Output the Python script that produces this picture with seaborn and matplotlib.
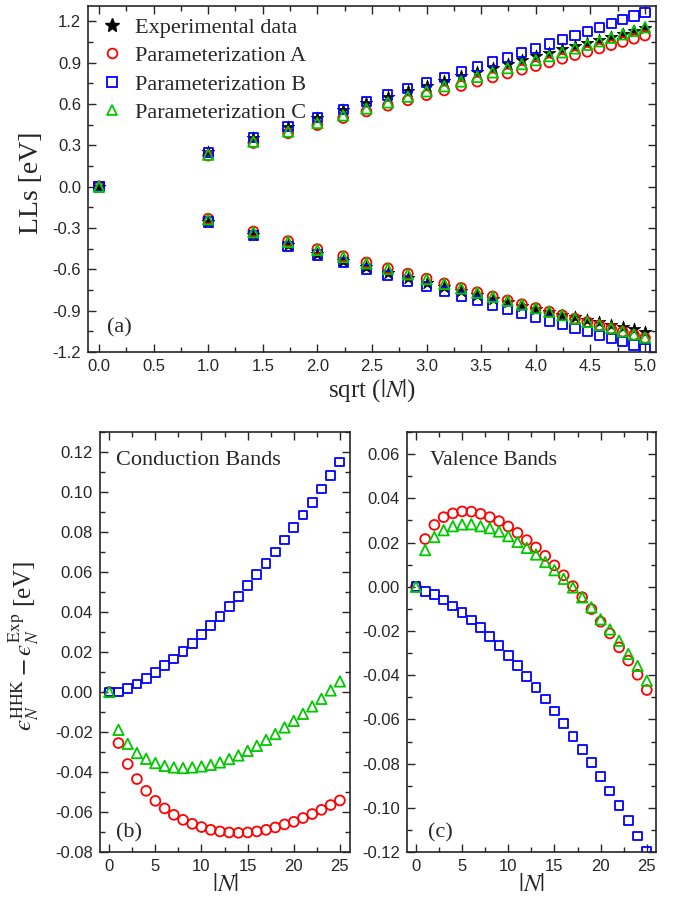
import numpy as np
import seaborn as sns
import matplotlib
matplotlib.use('Agg')
import matplotlib.pyplot as plt
from matplotlib.lines import Line2D
from matplotlib.ticker import MultipleLocator, FormatStrFormatter

# Landau level index |N|
n_levels = list(range(26))

# experimental Landau levels [eV] (conduction / valence)
exp_cond = [0.0, 0.250, 0.352, 0.430, 0.495, 0.552, 0.603, 0.648, 0.690, 0.729,
            0.765, 0.799, 0.831, 0.862, 0.891, 0.918, 0.944, 0.970, 0.995, 1.020,
            1.043, 1.065, 1.087, 1.108, 1.129, 1.150]
exp_val = [0.0, -0.2545, -0.3535, -0.4269, -0.487, -0.5387, -0.5843, -0.6255, -0.6629,
           -0.6975, -0.7296, -0.7596, -0.7877, -0.8143, -0.8394, -0.8633, -0.886,
           -0.9077, -0.9284, -0.9483, -0.9673, -0.9857, -1.0033, -1.0203, -1.0367, -1.0525]

# HHK - Exp differences, conduction bands [eV]
diff_cond_A = [0.0, -0.0255, -0.0360, -0.0435, -0.0494, -0.0544, -0.0582, -0.0614, -0.0639,
               -0.0659, -0.0675, -0.0689, -0.0697, -0.0702, -0.0704, -0.0702, -0.0697,
               -0.0689, -0.0677, -0.0662, -0.0649, -0.0630, -0.0610, -0.0589, -0.0565, -0.0542]
diff_cond_B = [0.0, 0.0, 0.0017, 0.0040, 0.0066, 0.0098, 0.0132, 0.0165, 0.0202, 0.0243,
               0.0287, 0.0332, 0.0378, 0.0428, 0.0478, 0.0532, 0.0587, 0.0643, 0.0700,
               0.0760, 0.0823, 0.0885, 0.0948, 0.1015, 0.1082, 0.1150]
diff_cond_C = [0.0, -0.0189, -0.0259, -0.0305, -0.0334, -0.0355, -0.0369, -0.0377, -0.0380,
               -0.0377, -0.0372, -0.0364, -0.0352, -0.0335, -0.0317, -0.0294, -0.0269,
               -0.0239, -0.0210, -0.0177, -0.0144, -0.0109, -0.0072, -0.0034, 0.0008, 0.0053]

# HHK - Exp differences, valence bands [eV]
diff_val_A = [0.0, 0.0216, 0.0280, 0.0315, 0.0332, 0.0341, 0.0340, 0.0330, 0.0315, 0.0297,
              0.0273, 0.0244, 0.0211, 0.0178, 0.0140, 0.0097, 0.0052, 0.0003, -0.0047,
              -0.0101, -0.0158, -0.0211, -0.0274, -0.0334, -0.0398, -0.0467]
diff_val_B = [0.0, -0.0021, -0.0036, -0.0060, -0.0087, -0.0118, -0.0150, -0.0185, -0.0226,
              -0.0267, -0.0310, -0.0357, -0.0405, -0.0455, -0.0508, -0.0562, -0.0618,
              -0.0677, -0.0735, -0.0796, -0.0860, -0.0924, -0.0990, -0.1057, -0.1127, -0.1195]
diff_val_C = [0.0, 0.0166, 0.0225, 0.0256, 0.0274, 0.0282, 0.0283, 0.0274, 0.0265, 0.0250,
              0.0229, 0.0203, 0.0176, 0.0146, 0.0112, 0.0075, 0.0036, -0.0003, -0.0048,
              -0.0093, -0.0147, -0.0193, -0.0244, -0.0304, -0.0358, -0.0425]

RED = '#ff0000'
BLUE = '#0000ff'
GREEN = '#00c800'

sns.set_style('ticks')
plt.rcParams['font.family'] = ['Liberation Serif', 'DejaVu Serif']
plt.rcParams['mathtext.fontset'] = 'stix'
plt.rcParams['axes.unicode_minus'] = False
plt.rcParams['axes.linewidth'] = 1.2

TICKFONT = {'family': 'Liberation Sans', 'size': 12}

sqrt_n = np.sqrt(n_levels)
exp_c = np.array(exp_cond)
exp_v = np.array(exp_val)

fig = plt.figure(figsize=(6.85, 9.10), dpi=100)
ax_a = fig.add_axes([0.1285, 0.6132, 0.829, 0.3802])
ax_b = fig.add_axes([0.146, 0.0637, 0.365, 0.4615])
ax_c = fig.add_axes([0.5937, 0.0637, 0.364, 0.4615])


def open_pts(ax, x, y, marker, color, s=44, lw=1.3):
    sns.scatterplot(x=x, y=y, ax=ax, marker=marker, s=s, facecolor='none',
                    edgecolor=color, linewidth=lw, zorder=3)


def style_axis(ax):
    ax.tick_params(which='both', direction='in', top=True, right=True, width=1.0)
    ax.tick_params(which='major', length=6, pad=5)
    ax.tick_params(which='minor', length=3.5)
    for lab in ax.get_xticklabels() + ax.get_yticklabels():
        lab.set_fontfamily(TICKFONT['family'])
        lab.set_fontsize(TICKFONT['size'])


############ (a) Landau levels ###########
for exp_e, dA, dB, dC in [(exp_c, diff_cond_A, diff_cond_B, diff_cond_C),
                          (exp_v, diff_val_A, diff_val_B, diff_val_C)]:
    sns.scatterplot(x=sqrt_n, y=exp_e, ax=ax_a, marker='*', s=90, color='black',
                    edgecolor='black', linewidth=0.5, zorder=2)
    open_pts(ax_a, sqrt_n, exp_e + np.array(dA), 'o', RED, s=50)
    open_pts(ax_a, sqrt_n, exp_e + np.array(dB), 's', BLUE, s=44)
    open_pts(ax_a, sqrt_n, exp_e + np.array(dC), '^', GREEN, s=56)

ax_a.set_xlim(-0.1, 5.1)
ax_a.set_ylim(-1.2, 1.31)
ax_a.xaxis.set_major_locator(MultipleLocator(0.5))
ax_a.xaxis.set_minor_locator(MultipleLocator(0.25))
ax_a.yaxis.set_major_locator(MultipleLocator(0.3))
ax_a.yaxis.set_minor_locator(MultipleLocator(0.15))
ax_a.xaxis.set_major_formatter(FormatStrFormatter('%.1f'))
ax_a.yaxis.set_major_formatter(FormatStrFormatter('%.1f'))
style_axis(ax_a)
ax_a.set_xlabel(r'sqrt ($|N|$)', fontsize=18, labelpad=2)
ax_a.set_ylabel('LLs [eV]', fontsize=20)
ax_a.yaxis.set_label_coords(-0.078, 0.49)
ax_a.text(0.033, 0.055, '(a)', transform=ax_a.transAxes, fontsize=16)

handles = [
    Line2D([], [], ls='none', marker='*', ms=10, color='black'),
    Line2D([], [], ls='none', marker='o', ms=7, mfc='none', mec=RED, mew=1.3),
    Line2D([], [], ls='none', marker='s', ms=6.5, mfc='none', mec=BLUE, mew=1.3),
    Line2D([], [], ls='none', marker='^', ms=7.5, mfc='none', mec=GREEN, mew=1.3),
]
labels = ['Experimental data', 'Parameterization A', 'Parameterization B', 'Parameterization C']
ax_a.legend(handles, labels, loc='upper left', frameon=False, fontsize=16,
            handlelength=1.0, handletextpad=0.55, labelspacing=0.36,
            borderaxespad=0.0, bbox_to_anchor=(0.007, 0.994))

############ (b) conduction bands ###########
open_pts(ax_b, n_levels, diff_cond_A, 'o', RED, s=50)
open_pts(ax_b, n_levels, diff_cond_B, 's', BLUE, s=40)
open_pts(ax_b, n_levels, diff_cond_C, '^', GREEN, s=56)
ax_b.set_xlim(-1, 26.1)
ax_b.set_ylim(-0.08, 0.13)
ax_b.xaxis.set_major_locator(MultipleLocator(5))
ax_b.xaxis.set_minor_locator(MultipleLocator(2.5))
ax_b.yaxis.set_major_locator(MultipleLocator(0.02))
ax_b.yaxis.set_minor_locator(MultipleLocator(0.01))
ax_b.yaxis.set_major_formatter(FormatStrFormatter('%.2f'))
style_axis(ax_b)
ax_b.set_xlabel(r'$|N|$', fontsize=18, labelpad=0)
ax_b.set_ylabel('$\u03f5_N^{\\rm HHK} - \u03f5_N^{\\rm Exp}$ [eV]', fontsize=18)
ax_b.yaxis.set_label_coords(-0.235, 0.49)
ax_b.text(0.065, 0.955, 'Conduction Bands', transform=ax_b.transAxes,
          fontsize=16, va='top')
ax_b.text(0.065, 0.035, '(b)', transform=ax_b.transAxes, fontsize=16)

############ (c) valence bands ###########
open_pts(ax_c, n_levels, diff_val_A, 'o', RED, s=50)
open_pts(ax_c, n_levels, diff_val_B, 's', BLUE, s=40)
open_pts(ax_c, n_levels, diff_val_C, '^', GREEN, s=56)
ax_c.set_xlim(-1, 26)
ax_c.set_ylim(-0.12, 0.07)
ax_c.xaxis.set_major_locator(MultipleLocator(5))
ax_c.xaxis.set_minor_locator(MultipleLocator(2.5))
ax_c.yaxis.set_major_locator(MultipleLocator(0.02))
ax_c.yaxis.set_minor_locator(MultipleLocator(0.01))
ax_c.yaxis.set_major_formatter(FormatStrFormatter('%.2f'))
style_axis(ax_c)
ax_c.set_xlabel(r'$|N|$', fontsize=18, labelpad=0)
ax_c.text(0.095, 0.955, 'Valence Bands', transform=ax_c.transAxes,
          fontsize=15.5, va='top')
ax_c.text(0.085, 0.035, '(c)', transform=ax_c.transAxes, fontsize=16)

fig.savefig('out.png', dpi=100)
